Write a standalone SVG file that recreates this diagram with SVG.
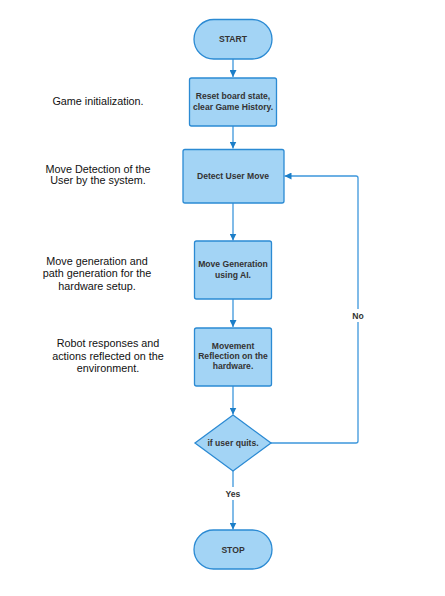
<svg xmlns="http://www.w3.org/2000/svg" width="445" height="596" viewBox="0 0 445 596">
<style>
.n{fill:#a3d4f5;stroke:#2b8ad3;stroke-width:1.3}
.t{font-family:"Liberation Sans",Arial,sans-serif;font-weight:bold;font-size:8.6px;fill:#333;text-anchor:middle}
.s{font-family:"Liberation Sans",Arial,sans-serif;font-size:10.8px;fill:#111;text-anchor:middle}
.c{fill:none;stroke:#3d97dc;stroke-width:1.3}
.l{font-family:"Liberation Sans",Arial,sans-serif;font-weight:bold;font-size:8.6px;fill:#333;text-anchor:middle}
</style>
<defs>
<marker id="a" viewBox="0 0 10 10" refX="10" refY="5" markerWidth="7" markerHeight="7" markerUnits="userSpaceOnUse" orient="auto">
<path d="M0,0 L10,5 L0,10 z" fill="#1b7ec8"/>
</marker>
</defs>
<rect width="445" height="596" fill="#fff"/>
<g id="connectors">
<path class="c" d="M233,59 V77" marker-end="url(#a)"/>
<path class="c" d="M233,126 V148.5" marker-end="url(#a)"/>
<path class="c" d="M233,203 V240.5" marker-end="url(#a)"/>
<path class="c" d="M233,299 V327" marker-end="url(#a)"/>
<path class="c" d="M233,386 V414.5" marker-end="url(#a)"/>
<path class="c" d="M271,443 H356 Q358,443 358,441 V178 Q358,176 356,176 H284.5" marker-end="url(#a)"/>
<path class="c" d="M233,471 V529.5" marker-end="url(#a)"/>
<rect x="348" y="309" width="20" height="13" fill="#fff"/>
<text class="l" x="358" y="318.5">No</text>
<rect x="222" y="487" width="22" height="13" fill="#fff"/>
<text class="l" x="233" y="496.5">Yes</text>
</g>
<g id="start">
<rect class="n" x="194" y="19.5" width="78" height="39.5" rx="19.75"/>
<text class="t" x="233" y="42">START</text>
</g>
<g id="reset">
<rect class="n" x="189.5" y="78" width="87" height="48" rx="2"/>
<text class="t" x="233" y="99">Reset board state,</text>
<text class="t" x="233" y="110">clear Game History.</text>
</g>
<g id="detect">
<rect class="n" x="183" y="149.5" width="101" height="53.5" rx="2"/>
<text class="t" x="233" y="179">Detect User Move</text>
</g>
<g id="movegen">
<rect class="n" x="194.5" y="241" width="77" height="58" rx="2"/>
<text class="t" x="233" y="267">Move Generation</text>
<text class="t" x="233" y="277.5">using AI.</text>
</g>
<g id="reflect">
<rect class="n" x="194.5" y="328" width="77" height="58" rx="2"/>
<text class="t" x="233" y="348.5">Movement</text>
<text class="t" x="233" y="359">Reflection on the</text>
<text class="t" x="233" y="369">hardware.</text>
</g>
<g id="decision">
<path class="n" d="M233,415 L271,443 L233,471 L195,443 Z"/>
<text class="t" x="233" y="446">if user quits.</text>
</g>
<g id="stop">
<rect class="n" x="194" y="530" width="78" height="39" rx="19.5"/>
<text class="t" x="233" y="552.5">STOP</text>
</g>
<g id="notes">
<text class="s" x="98" y="104.5">Game initialization.</text>
<text class="s" x="98" y="172.5">Move Detection of the</text>
<text class="s" x="98" y="184">User by the system.</text>
<text class="s" x="97" y="264.5">Move generation and</text>
<text class="s" x="97" y="277">path generation for the</text>
<text class="s" x="97" y="289.5">hardware setup.</text>
<text class="s" x="108" y="347">Robot responses and</text>
<text class="s" x="108" y="359.5">actions reflected on the</text>
<text class="s" x="108" y="372">environment.</text>
</g>
</svg>
